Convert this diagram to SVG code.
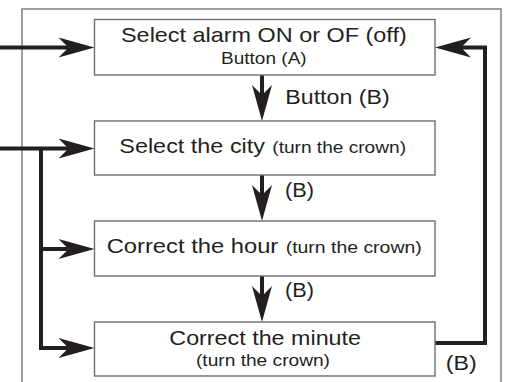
<svg xmlns="http://www.w3.org/2000/svg" width="506" height="382" viewBox="0 0 506 382">
  <defs>
    <style>
      .frame { fill: none; stroke: #808080; stroke-width: 1.5; }
      .box { fill: #ffffff; stroke: #6d6e71; stroke-width: 1.4; }
      .conn { fill: none; stroke: #231f20; stroke-width: 4; stroke-linejoin: miter; }
      .big { font-family: "Liberation Sans", Arial, sans-serif; font-size: 21px; fill: #231f20; }
      .small { font-family: "Liberation Sans", Arial, sans-serif; font-size: 17px; fill: #231f20; }
      .lbl { font-family: "Liberation Sans", Arial, sans-serif; font-size: 20px; fill: #231f20; }
    </style>
    <marker id="arrow" markerUnits="userSpaceOnUse" viewBox="0 -10 36 20" refX="10" refY="0" markerWidth="36" markerHeight="20" orient="auto" overflow="visible">
      <path d="M0,-10 L36,0 L0,10 L10,0 Z" fill="#231f20"/>
    </marker>
  </defs>

  <g id="frame">
    <path class="frame" d="M22,382 V9 H501 V382"/>
  </g>

  <g id="connectors">
    <path class="conn" d="M0,47.5 H68.5" marker-end="url(#arrow)"/>
    <path class="conn" d="M0,148.5 H68.5" marker-end="url(#arrow)"/>
    <path class="conn" d="M41,148.5 V348 H68.5" marker-end="url(#arrow)"/>
    <path class="conn" d="M41,249 H68.5" marker-end="url(#arrow)"/>
    <path class="conn" d="M262,75 V95" marker-end="url(#arrow)"/>
    <path class="conn" d="M262,175 V195" marker-end="url(#arrow)"/>
    <path class="conn" d="M262,276 V296" marker-end="url(#arrow)"/>
    <path class="conn" d="M435,343 H485 V47.5 H461" marker-end="url(#arrow)"/>
    <text class="lbl" x="285.3" y="103.5" textLength="104.4" lengthAdjust="spacingAndGlyphs">Button (B)</text>
    <text class="lbl" x="285" y="197" textLength="29" lengthAdjust="spacingAndGlyphs">(B)</text>
    <text class="lbl" x="285" y="296.5" textLength="29" lengthAdjust="spacingAndGlyphs">(B)</text>
    <text class="lbl" x="445.7" y="370" textLength="31" lengthAdjust="spacingAndGlyphs">(B)</text>
  </g>

  <g id="node-alarm">
    <rect class="box" x="94.5" y="19.5" width="340.5" height="55.5"/>
    <text class="big" x="121" y="42.3" textLength="285.7" lengthAdjust="spacingAndGlyphs">Select alarm ON or OF (off)</text>
    <text class="small" x="221" y="64.3" textLength="85.7" lengthAdjust="spacingAndGlyphs">Button (A)</text>
  </g>

  <g id="node-city">
    <rect class="box" x="94.5" y="121" width="340.5" height="54"/>
    <text class="big" x="119.3" y="152.5" textLength="145.7" lengthAdjust="spacingAndGlyphs">Select the city</text>
    <text class="small" x="272.3" y="152.5" textLength="133.7" lengthAdjust="spacingAndGlyphs">(turn the crown)</text>
  </g>

  <g id="node-hour">
    <rect class="box" x="94.5" y="221" width="340.5" height="55"/>
    <text class="big" x="106.7" y="252.7" textLength="171.6" lengthAdjust="spacingAndGlyphs">Correct the hour</text>
    <text class="small" x="285.7" y="252.7" textLength="136" lengthAdjust="spacingAndGlyphs">(turn the crown)</text>
  </g>

  <g id="node-minute">
    <rect class="box" x="94.5" y="322" width="340.5" height="54"/>
    <text class="big" x="169.3" y="345" textLength="191.7" lengthAdjust="spacingAndGlyphs">Correct the minute</text>
    <text class="small" x="196" y="365.7" textLength="134" lengthAdjust="spacingAndGlyphs">(turn the crown)</text>
  </g>
</svg>
